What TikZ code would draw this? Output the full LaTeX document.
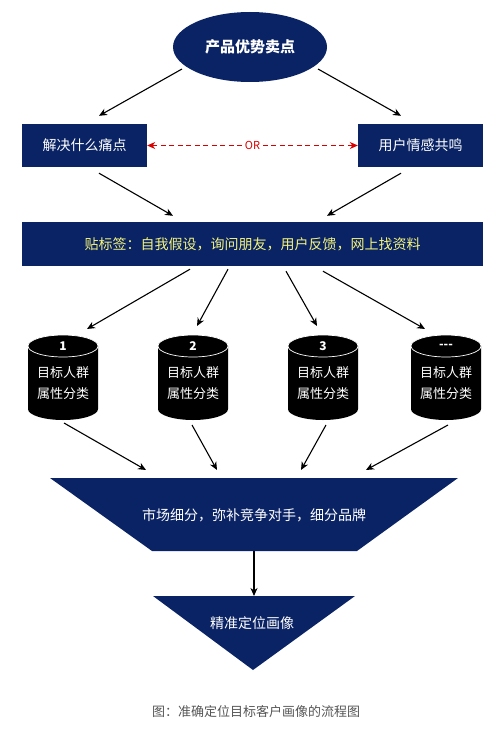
\documentclass[tikz,border=0pt]{standalone}
\usepackage{fontspec}
\setmainfont{Noto Sans CJK SC}
\usepackage{tikz}
\usetikzlibrary{shapes.geometric, arrows.meta, calc}
\definecolor{navy}{HTML}{0A2364}
\definecolor{tagyellow}{HTML}{F5F57A}
\definecolor{capgray}{HTML}{555555}

\begin{document}
\begin{tikzpicture}[
    x=1pt, y=-1pt,
    topic/.style={ellipse, minimum width=154pt, minimum height=70pt, fill=navy, text=white, font=\fontsize{15}{18}\selectfont\bfseries},
    process/.style={rectangle, minimum width=125pt, minimum height=43pt, fill=navy, text=white, font=\fontsize{14}{17}\selectfont},
    tagbar/.style={rectangle, minimum width=461pt, minimum height=44pt, fill=navy, text=tagyellow, font=\fontsize{14}{17}\selectfont},
    cylend/.style={x radius=35pt, y radius=11pt},
    storenum/.style={text=white, font=\fontsize{12}{14}\selectfont\bfseries},
    storetext/.style={text=white, align=center, font=\fontsize{13}{21}\selectfont},
    funnel/.style={fill=navy},
    funneltext/.style={text=white, font=\fontsize{14}{17}\selectfont},
    arrow/.style={line width=1.1pt, -{Stealth[length=8pt, width=7pt, inset=2.5pt]}},
    orarrow/.style={red!85!black, line width=0.9pt, dash pattern=on 5pt off 3.5pt, {Stealth[length=8pt, width=7pt, inset=2.5pt]}-{Stealth[length=8pt, width=7pt, inset=2.5pt]}}
]
\useasboundingbox (0,0) rectangle (496,733);

\node[topic] (sell) at (250,47) {产品优势卖点};
\node[process] (pain) at (84.5,145.5) {解决什么痛点};
\node[process] (feel) at (420.5,145.5) {用户情感共鸣};
\node[tagbar] (tags) at (252.5,244) {贴标签：自我假设，询问朋友，用户反馈，网上找资料};

% cylinders
\foreach \i/\x/\n in {1/63/1, 2/193/2, 3/323/3, 4/446/{-}{-}{-}} {
    \fill[black] (\x-35,346) -- (\x-35,409) arc[start angle=180, end angle=360, cylend] -- (\x+35,346) arc[start angle=0, end angle=180, cylend] -- cycle;
    \draw[white, line width=0.7pt] (\x,346) ellipse [cylend];
    \node[storenum] (num\i) at (\x,346) {\n};
    \node[storetext] (grp\i) at (\x,383.5) {目标人群\\属性分类};
}

% funnel shapes
\coordinate (segTL) at (50,478);
\coordinate (segTR) at (458,478);
\coordinate (segBR) at (357,551);
\coordinate (segBL) at (152,551);
\fill[funnel] (segTL) -- (segTR) -- (segBR) -- (segBL) -- cycle;
\node[funneltext] (seg) at (254,515) {市场细分，弥补竞争对手，细分品牌};

\coordinate (triL) at (153,596);
\coordinate (triR) at (355,596);
\coordinate (triB) at (253,670);
\fill[funnel] (triL) -- (triR) -- (triB) -- cycle;
\node[funneltext] (portrait) at (252,623) {精准定位画像};

\node[text=capgray, font=\fontsize{13}{16}\selectfont] (caption) at (256,712) {图：准确定位目标客户画像的流程图};

% Connectors
\draw[arrow] ($(sell.center)+(-68,22)$) -- ($(pain.north)+(14.5,-8)$);
\draw[arrow] ($(sell.center)+(68,22)$) -- ($(feel.north)+(-19.5,-8)$);
\draw[orarrow] (pain.east) -- node[fill=white, inner sep=3pt, font=\fontsize{11}{13}\selectfont] {OR} (feel.west);
\draw[arrow] ($(pain.south)+(14.5,6)$) -- ($(tags.north)+(-79.5,-6)$);
\draw[arrow] ($(feel.south)+(-19.5,6)$) -- ($(tags.north)+(74.5,-6)$);
\draw[arrow] ($(tags.south)+(-62.5,3)$) -- ($(grp1.center)+(24,-54.5)$);
\draw[arrow] ($(tags.south)+(-24.5,3)$) -- ($(grp2.center)+(4,-57.5)$);
\draw[arrow] ($(tags.south)+(33.5,5)$) -- ($(grp3.center)+(-6,-57.5)$);
\draw[arrow] ($(tags.south)+(70.5,5)$) -- ($(grp4.center)+(-21,-54.5)$);
\draw[arrow] ($(grp1.center)+(1,39.5)$) -- ($(seg.center)+(-108,-45)$);
\draw[arrow] ($(grp2.center)+(-1,41.5)$) -- ($(seg.center)+(-37,-45)$);
\draw[arrow] ($(grp3.center)+(3,41.5)$) -- ($(seg.center)+(47,-45)$);
\draw[arrow] ($(grp4.center)+(2,41.5)$) -- ($(seg.center)+(112,-45)$);
\draw[arrow] (segBL -| seg) -- (triL -| seg);

\end{tikzpicture}
\end{document}
